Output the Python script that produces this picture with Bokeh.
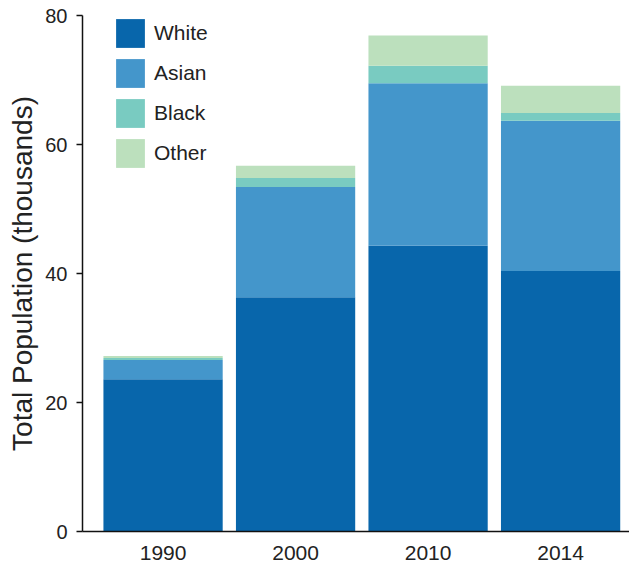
from bokeh.plotting import figure
from bokeh.models import ColumnDataSource, Range1d, FixedTicker, Legend, LegendItem
from bokeh.embed import file_html
from bokeh.resources import INLINE

years = ["1990", "2000", "2010", "2014"]
white = [23.6, 36.3, 44.3, 40.4]
asian = [3.0, 17.1, 25.2, 23.3]
black = [0.3, 1.4, 2.7, 1.2]
other = [0.3, 1.9, 4.7, 4.2]
groups = ["White", "Asian", "Black", "Other"]
colors = ["#0866ab", "#4496cb", "#79cbc1", "#bce0bd"]
y_ticks = [0, 20, 40, 60, 80]

xs = list(range(len(years)))
src = ColumnDataSource(dict(x=xs, White=white, Asian=asian, Black=black, Other=other))

FONT = "Liberation Sans"

p = figure(width=629, height=562, output_backend="svg", toolbar_location=None,
           x_range=Range1d(-0.608, 3.52), y_range=Range1d(0, 80))
p.min_border_left = 82
p.min_border_right = 0
p.min_border_top = 15
p.min_border_bottom = 30
p.outline_line_color = None
p.background_fill_color = "white"
p.grid.visible = False

renderers = p.vbar_stack(groups, x="x", width=0.9, source=src, color=colors, line_color=None)

legend = Legend(items=[LegendItem(label=g, renderers=[r]) for g, r in zip(groups, renderers)],
                location=(30, 360))
legend.glyph_width = 36
legend.glyph_height = 36
legend.spacing = 4
legend.padding = 5
legend.margin = 0
legend.label_standoff = 6
legend.label_text_font = FONT
legend.label_text_font_size = "21px"
legend.label_text_color = "#222222"
legend.border_line_color = None
legend.background_fill_alpha = 0
p.add_layout(legend, "center")

xa = p.xaxis[0]
xa.ticker = FixedTicker(ticks=xs)
xa.major_label_overrides = {i: y for i, y in enumerate(years)}
xa.major_tick_line_color = None
xa.minor_tick_line_color = None
xa.axis_line_width = 1.5
xa.axis_line_color = "#111111"
xa.major_label_text_font = FONT
xa.major_label_text_font_size = "21px"
xa.major_label_text_color = "#222222"
xa.major_label_standoff = 8

ya = p.yaxis[0]
ya.ticker = FixedTicker(ticks=y_ticks)
ya.minor_tick_line_color = None
ya.major_tick_in = 0
ya.major_tick_out = 6
ya.major_tick_line_width = 1.5
ya.axis_line_width = 1.5
ya.axis_line_color = "#111111"
ya.major_tick_line_color = "#111111"
ya.major_label_text_font = FONT
ya.major_label_text_font_size = "20px"
ya.major_label_text_color = "#222222"
ya.major_label_standoff = 9
ya.axis_label = "Total Population (thousands)"
ya.axis_label_text_font = FONT
ya.axis_label_text_font_size = "28px"
ya.axis_label_text_font_style = "normal"
ya.axis_label_text_color = "#222222"
ya.axis_label_standoff = 4

open("out.html", "w").write(file_html(p, INLINE))
